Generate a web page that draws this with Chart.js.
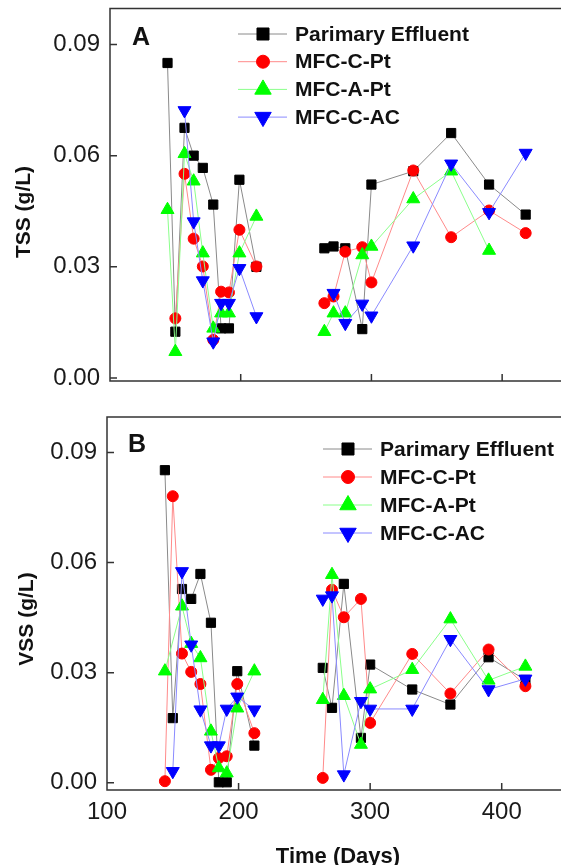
<!DOCTYPE html>
<html>
<head>
<meta charset="utf-8">
<script src="https://cdn.jsdelivr.net/npm/chart.js@4.4.1/dist/chart.umd.min.js"></script>
<style>
  html, body { margin: 0; padding: 0; background: #fff; overflow: hidden; width: 561px; height: 865px; }
  .panel { position: absolute; left: 0; }
  #wrapA { top: 0; }
  #wrapB { top: 392px; }
</style>
</head>
<body>
<div id="wrapA" class="panel"><canvas id="chartA" width="576" height="392"></canvas></div>
<div id="wrapB" class="panel"><canvas id="chartB" width="576" height="473"></canvas></div>
<script>
// sampling days (shared by both panels)
const days = [144, 150, 157, 164, 171, 179, 185, 191, 199, 212, 264, 271, 280, 293, 300, 332, 361, 390, 418]
const seriesNames = ["Parimary Effluent", "MFC-C-Pt", "MFC-A-Pt", "MFC-C-AC"]

// panel A: TSS (g/L)
const tssPrimary = [0.085, 0.0125, 0.0675, 0.060, 0.0567, 0.0468, 0.0134, 0.0134, 0.0535, 0.030, 0.035, 0.0355, 0.035, 0.0132, 0.0522, 0.0558, 0.0661, 0.0522, 0.0441]
const tssCPt = [null, 0.0161, 0.0551, 0.0376, 0.0301, 0.0103, 0.0233, 0.0231, 0.040, 0.0301, 0.0202, 0.022, 0.0341, 0.0353, 0.0258, 0.056, 0.038, 0.0452, 0.0391]
const tssAPt = [0.0454, 0.0071, 0.0605, 0.0531, 0.0337, 0.0134, 0.0175, 0.0175, 0.0337, 0.0436, 0.0125, 0.0175, 0.0175, 0.0332, 0.0355, 0.0483, 0.0558, 0.0344, null]
const tssCAC = [null, null, 0.0722, 0.0422, 0.0263, 0.0098, 0.0202, 0.0202, 0.0296, 0.0166, null, 0.0229, 0.0148, 0.020, 0.0168, 0.0357, 0.0578, 0.0447, 0.0607]

// panel B: VSS (g/L)
const vssPrimary = [0.0852, 0.0176, 0.0528, 0.0501, 0.0569, 0.0436, 0.0001, 0.0001, 0.0304, 0.0101, 0.0313, 0.0204, 0.0542, 0.0122, 0.0322, 0.0254, 0.0213, 0.0342, 0.028]
const vssCPt = [0.0004, 0.0781, 0.0352, 0.0302, 0.0269, 0.0035, 0.0067, 0.0072, 0.0269, 0.0135, 0.0013, 0.0526, 0.0451, 0.0501, 0.0163, 0.0351, 0.0243, 0.0363, 0.0263]
const vssAPt = [0.0304, null, 0.0481, 0.0379, 0.034, 0.014, 0.004, 0.0026, 0.0203, 0.0304, 0.0226, 0.0567, 0.0237, 0.0104, 0.0255, 0.0308, 0.0446, 0.0279, 0.0317]
const vssCAC = [null, 0.0031, 0.0576, 0.0376, 0.0199, 0.0101, 0.0101, 0.0201, 0.0234, 0.0199, 0.0501, 0.051, 0.0022, 0.0222, 0.0201, 0.0201, 0.0391, 0.0254, 0.0283]

const xTicks = [100, 200, 300, 400]
const yTicks = [0, 0.03, 0.06, 0.09]
const gapDay = 238 // no sampling between the two runs, line is broken here

const FONT = "'Liberation Sans', Arial, sans-serif"
Chart.defaults.font.family = FONT

const styles = [
  { color: "#000000", line: "#8a8a8a", pointStyle: "rect", radius: 6.5, legendRadius: 8.5, rotation: 0 },
  { color: "#ff0000", line: "#ff8a8a", pointStyle: "circle", radius: 5.5, legendRadius: 6.5, rotation: 0 },
  { color: "#00ff00", line: "#8aff8a", pointStyle: "triangle", radius: 7.5, legendRadius: 9.5, rotation: 0 },
  { color: "#0000ff", line: "#8a8aff", pointStyle: "triangle", radius: 7.5, legendRadius: 9.5, rotation: 180 },
]

function toPoints(values) {
  const pts = []
  let broken = false
  days.forEach((d, i) => {
    if (!broken && d > gapDay) {
      pts.push({ x: gapDay, y: null })
      broken = true
    }
    if (values[i] !== null) pts.push({ x: d, y: values[i] })
  })
  return pts
}

function makeDatasets(seriesList) {
  return seriesList.map((values, i) => {
    const s = styles[i]
    return {
      label: seriesNames[i],
      data: toPoints(values),
      borderColor: s.line,
      borderWidth: 1,
      backgroundColor: s.color,
      pointBackgroundColor: s.color,
      pointBorderColor: s.color,
      pointBorderWidth: 1,
      pointStyle: s.pointStyle,
      pointRadius: s.radius,
      pointRotation: s.rotation,
      tension: 0,
      spanGaps: false,
      clip: false,
      order: 4 - i, // blue ends up on top, black at the bottom
    }
  })
}

// frame, inward ticks, legend, panel letter and axis titles
const decorPlugin = {
  id: "decor",
  beforeDatasetsDraw(chart, args, opts) {
    const { ctx, chartArea: a, scales } = chart
    ctx.save()
    ctx.strokeStyle = "#333"
    ctx.lineWidth = 1.5
    ctx.beginPath()
    ctx.moveTo(a.right + 5, a.top)
    ctx.lineTo(a.left, a.top)
    ctx.lineTo(a.left, a.bottom)
    ctx.lineTo(a.right + 5, a.bottom)
    yTicks.forEach((v) => {
      const y = scales.y.getPixelForValue(v)
      ctx.moveTo(a.left, y)
      ctx.lineTo(a.left + 7, y)
    })
    xTicks.forEach((v) => {
      const x = scales.x.getPixelForValue(v)
      ctx.moveTo(x, a.bottom)
      ctx.lineTo(x, a.bottom - 7)
    })
    ctx.stroke()
    ctx.restore()
  },
  afterDraw(chart, args, opts) {
    const { ctx } = chart
    ctx.save()
    ctx.fillStyle = "#111"

    // panel letter
    ctx.font = "bold 25px " + FONT
    ctx.textAlign = "left"
    ctx.textBaseline = "middle"
    ctx.fillText(opts.letter, opts.letterX, opts.letterY)

    // legend
    chart.data.datasets.forEach((ds, i) => {
      const s = styles[i]
      const y = opts.legendY + i * opts.legendStep
      ctx.strokeStyle = s.line
      ctx.lineWidth = 1
      ctx.beginPath()
      ctx.moveTo(opts.legendX - 25, y)
      ctx.lineTo(opts.legendX + 24, y)
      ctx.stroke()
      ctx.fillStyle = s.color
      ctx.strokeStyle = s.color
      Chart.helpers.drawPoint(ctx, { pointStyle: s.pointStyle, radius: s.legendRadius, rotation: s.rotation, borderWidth: 1 }, opts.legendX, y)
      ctx.fillStyle = "#111"
      ctx.font = "bold 21px " + FONT
      ctx.textAlign = "left"
      ctx.textBaseline = "middle"
      ctx.fillText(ds.label, opts.legendX + 32, y + 1)
    })

    // y axis title
    ctx.save()
    ctx.translate(opts.yTitleX, opts.yTitleY)
    ctx.rotate(-Math.PI / 2)
    ctx.font = "bold 21px " + FONT
    ctx.textAlign = "center"
    ctx.textBaseline = "middle"
    ctx.fillText(opts.yTitle, 0, 0)
    ctx.restore()

    // x axis title
    if (opts.xTitle) {
      ctx.font = "bold 22px " + FONT
      ctx.textAlign = "center"
      ctx.textBaseline = "middle"
      ctx.fillText(opts.xTitle, opts.xTitleX, opts.xTitleY)
    }
    ctx.restore()
  },
}

function noOverflow(s) {
  s.paddingTop = 0
  s.paddingBottom = 0
  s.paddingLeft = 0
  s.paddingRight = 0
}

function makeChart(id, seriesList, cfg) {
  return new Chart(document.getElementById(id), {
    type: "line",
    data: { datasets: makeDatasets(seriesList) },
    options: {
      responsive: false,
      animation: false,
      layout: { padding: { top: cfg.padTop, right: cfg.padRight, left: 0, bottom: 0 } },
      plugins: {
        legend: { display: false },
        tooltip: { enabled: false },
        decor: cfg.decor,
      },
      scales: {
        x: {
          type: "linear",
          min: 100,
          max: 450,
          afterBuildTicks: (s) => { s.ticks = xTicks.map((v) => ({ value: v })) },
          afterFit: (s) => { s.height = cfg.xHeight; noOverflow(s) },
          grid: { display: false, drawTicks: false },
          border: { display: false },
          ticks: {
            display: cfg.showXLabels,
            font: { size: 24 },
            color: "#1a1a1a",
            padding: 8,
            maxRotation: 0,
          },
        },
        y: {
          min: cfg.yMin,
          max: cfg.yMax,
          afterBuildTicks: (s) => { s.ticks = yTicks.map((v) => ({ value: v })) },
          afterFit: (s) => { s.width = cfg.yWidth; noOverflow(s) },
          grid: { display: false, drawTicks: false },
          border: { display: false },
          ticks: {
            font: { size: 24 },
            color: "#1a1a1a",
            padding: 10,
            callback: (v) => Number(v).toFixed(2),
          },
        },
      },
    },
    plugins: [decorPlugin],
  })
}

makeChart("chartA", [tssPrimary, tssCPt, tssAPt, tssCAC], {
  padTop: 8, padRight: 2, xHeight: 11, yWidth: 110,
  yMin: -0.0008, yMax: 0.0997, showXLabels: false,
  decor: {
    letter: "A", letterX: 132, letterY: 38,
    legendX: 263, legendY: 34, legendStep: 27.7,
    yTitle: "TSS (g/L)", yTitleX: 24, yTitleY: 212,
    xTitle: "",
  },
})

makeChart("chartB", [vssPrimary, vssCPt, vssAPt, vssCAC], {
  padTop: 25, padRight: 7, xHeight: 75, yWidth: 107,
  yMin: -0.002, yMax: 0.0997, showXLabels: true,
  decor: {
    letter: "B", letterX: 128, letterY: 53,
    legendX: 348, legendY: 57, legendStep: 28,
    yTitle: "VSS (g/L)", yTitleX: 27, yTitleY: 227,
    xTitle: "Time (Days)", xTitleX: 338, xTitleY: 465,
  },
})
</script>
</body>
</html>
